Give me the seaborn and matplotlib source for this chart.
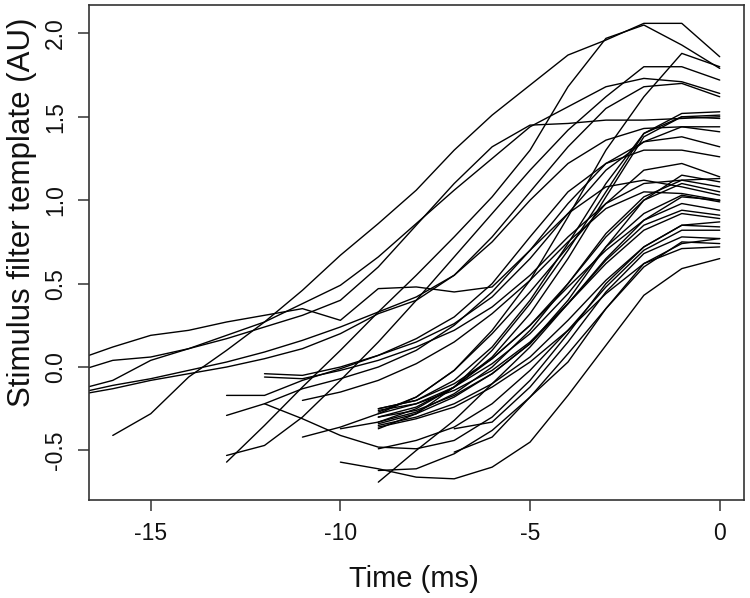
import numpy as np
import pandas as pd
import matplotlib
matplotlib.use("Agg")
import matplotlib.pyplot as plt
import seaborn as sns

# ---- data: each filter template, sampled every ms up to t = 0 ----
g1_start = -17
g1 = [0.04, 0.12, 0.19, 0.22, 0.27, 0.31, 0.35, 0.28, 0.47, 0.48, 0.45, 0.48, 0.70, 0.98, 1.22, 1.35, 1.38, 1.32]
g2_start = -17
g2 = [-0.03, 0.04, 0.06, 0.11, 0.19, 0.27, 0.38, 0.49, 0.66, 0.86, 1.06, 1.25, 1.44, 1.56, 1.68, 1.73, 1.71, 1.64]
g3_start = -17
g3 = [-0.14, -0.08, 0.04, 0.11, 0.17, 0.24, 0.31, 0.40, 0.60, 0.85, 1.10, 1.32, 1.45, 1.46, 1.48, 1.48, 1.49, 1.50]
g4_start = -17
g4 = [-0.16, -0.11, -0.07, -0.02, 0.03, 0.09, 0.16, 0.24, 0.33, 0.42, 0.55, 0.75, 1.00, 1.22, 1.36, 1.43, 1.44, 1.41]
g5_start = -17
g5 = [-0.17, -0.13, -0.08, -0.04, 0.00, 0.05, 0.11, 0.20, 0.32, 0.40, 0.55, 0.78, 1.05, 1.32, 1.55, 1.68, 1.70, 1.62]

e1_start = -16
e1 = [-0.41, -0.28, -0.06, 0.10, 0.27, 0.46, 0.67, 0.86, 1.06, 1.30, 1.51, 1.69, 1.87, 1.96, 2.06, 2.06, 1.86]

h1_start = -13
h1 = [-0.17, -0.17, -0.08, -0.01, 0.07, 0.17, 0.30, 0.50, 0.78, 1.05, 1.22, 1.30, 1.30, 1.26]
h2_start = -13
h2 = [-0.29, -0.22, -0.13, -0.07, 0.00, 0.10, 0.25, 0.45, 0.70, 0.92, 1.08, 1.12, 1.08, 1.03]
h3_start = -13
h3 = [-0.53, -0.47, -0.30, -0.08, 0.15, 0.40, 0.66, 0.92, 1.18, 1.42, 1.62, 1.80, 1.80, 1.72]
h4_start = -13
h4 = [-0.57, -0.35, -0.12, 0.10, 0.33, 0.55, 0.78, 1.02, 1.30, 1.68, 1.97, 2.05, 1.93, 1.79]

i1_start = -12
i1 = [-0.04, -0.05, 0.00, 0.07, 0.15, 0.26, 0.42, 0.65, 0.92, 1.18, 1.35, 1.44, 1.44]
i2_start = -12
i2 = [-0.06, -0.07, -0.02, 0.04, 0.12, 0.22, 0.36, 0.55, 0.78, 0.98, 1.10, 1.12, 1.08]
i3_start = -12
i3 = [-0.22, -0.31, -0.41, -0.48, -0.49, -0.44, -0.30, -0.08, 0.20, 0.50, 0.72, 0.85, 0.87]

j1_start = -11
j1 = [-0.20, -0.15, -0.08, 0.02, 0.15, 0.32, 0.52, 0.75, 0.95, 1.05, 1.04, 1.00]
j2_start = -11
j2 = [-0.42, -0.36, -0.28, -0.18, -0.02, 0.20, 0.45, 0.72, 0.98, 1.18, 1.22, 1.14]

k1_start = -10
k1 = [-0.37, -0.33, -0.25, -0.12, 0.05, 0.25, 0.48, 0.70, 0.88, 0.98, 0.94]
k2_start = -10
k2 = [-0.57, -0.61, -0.66, -0.67, -0.60, -0.45, -0.17, 0.13, 0.43, 0.59, 0.65]

m1_start = -9
m1 = [-0.25, -0.20, -0.10, 0.05, 0.25, 0.50, 0.78, 1.00, 1.10, 1.05]
m2_start = -9
m2 = [-0.26, -0.22, -0.14, -0.02, 0.15, 0.38, 0.62, 0.82, 0.92, 0.89]
m3_start = -9
m3 = [-0.28, -0.22, -0.12, 0.02, 0.20, 0.44, 0.72, 0.92, 1.03, 0.99]
m4_start = -9
m4 = [-0.34, -0.28, -0.18, -0.04, 0.14, 0.40, 0.72, 1.00, 1.15, 1.11]
m5_start = -9
m5 = [-0.35, -0.30, -0.22, -0.10, 0.06, 0.28, 0.52, 0.72, 0.85, 0.84]
m6_start = -9
m6 = [-0.36, -0.31, -0.24, -0.12, 0.03, 0.22, 0.44, 0.62, 0.74, 0.77]
m7_start = -9
m7 = [-0.37, -0.28, -0.12, 0.10, 0.38, 0.70, 1.05, 1.40, 1.52, 1.53]
m8_start = -9
m8 = [-0.49, -0.44, -0.36, -0.22, -0.02, 0.22, 0.48, 0.70, 0.82, 0.82]
m9_start = -9
m9 = [-0.69, -0.50, -0.32, -0.10, 0.12, 0.38, 0.65, 0.88, 1.02, 1.00]
m10_start = -9
m10 = [-0.62, -0.61, -0.52, -0.38, -0.18, 0.08, 0.35, 0.60, 0.75, 0.74]
m11_start = -9
m11 = [-0.30, -0.24, -0.12, 0.06, 0.32, 0.65, 1.02, 1.38, 1.50, 1.49]
m12_start = -9
m12 = [-0.27, -0.18, -0.02, 0.22, 0.52, 0.90, 1.30, 1.62, 1.88, 1.80]
m13_start = -9
m13 = [-0.25, -0.20, -0.08, 0.12, 0.40, 0.74, 1.10, 1.40, 1.50, 1.51]
m14_start = -9
m14 = [-0.30, -0.26, -0.17, -0.04, 0.14, 0.38, 0.64, 0.85, 0.94, 0.91]
m15_start = -9
m15 = [-0.33, -0.27, -0.16, 0.00, 0.22, 0.50, 0.80, 1.02, 1.12, 1.13]

n1_start = -7
n1 = [-0.37, -0.33, -0.12, 0.15, 0.45, 0.68, 0.78, 0.77]
n2_start = -7
n2 = [-0.51, -0.42, -0.18, 0.03, 0.35, 0.62, 0.71, 0.72]

x_ticks = [-15, -10, -5, 0]
y_ticks = [-0.5, 0.0, 0.5, 1.0, 1.5, 2.0]
x_label = "Time (ms)"
y_label = "Stimulus filter template (AU)"

series = [
    (g1_start, g1), (g2_start, g2), (g3_start, g3), (g4_start, g4), (g5_start, g5),
    (e1_start, e1),
    (h1_start, h1), (h2_start, h2), (h3_start, h3), (h4_start, h4),
    (i1_start, i1), (i2_start, i2), (i3_start, i3),
    (j1_start, j1), (j2_start, j2),
    (k1_start, k1), (k2_start, k2),
    (m1_start, m1), (m2_start, m2), (m3_start, m3), (m4_start, m4), (m5_start, m5),
    (m6_start, m6), (m7_start, m7), (m8_start, m8), (m9_start, m9), (m10_start, m10),
    (m11_start, m11), (m12_start, m12), (m13_start, m13), (m14_start, m14), (m15_start, m15),
    (n1_start, n1), (n2_start, n2),
]

rows = []
for idx, (start, vals) in enumerate(series):
    ts = np.arange(start, start + len(vals))
    for t, v in zip(ts, vals):
        rows.append({"id": idx, "t": t, "v": v})
df = pd.DataFrame(rows)

# ---- style ----
sns.set_theme(style="ticks")
plt.rcParams["font.family"] = ["Liberation Sans", "DejaVu Sans"]

W, H = 750, 598
fig = plt.figure(figsize=(W / 100, H / 100), dpi=100)
ax = fig.add_axes([88.5 / W, 1 - 500 / H, (744 - 88.5) / W, (500 - 5) / H])

sns.lineplot(data=df, x="t", y="v", units="id", estimator=None,
             color="black", linewidth=1.0, ax=ax, legend=False)

ax.set_xlim(-16.64, 0.64)
ax.set_ylim(-0.797, 2.170)
ax.set_xticks(x_ticks)
ax.set_xticklabels([f"{v:g}" for v in x_ticks], fontsize=16.5)
ax.set_yticks(y_ticks)
ax.set_yticklabels([f"{v:.1f}" for v in y_ticks], fontsize=16.5, rotation=90, va="center")
ax.set_xlabel("")
ax.set_ylabel("")

for s in ax.spines.values():
    s.set_visible(True)
    s.set_color("#333333")
    s.set_linewidth(1.2)
ax.tick_params(axis="both", direction="out", length=8, width=1.1, color="#333333",
               labelcolor="#111111", pad=7.5)

fig.text(414 / W, 1 - 579 / H, x_label, ha="center", va="center", fontsize=21, color="#111111")
fig.text(22 / W, 1 - 212 / H, y_label, ha="center", va="center", rotation=90,
         fontsize=22.5, color="#111111")

fig.savefig("out.png", dpi=100, facecolor="white")
